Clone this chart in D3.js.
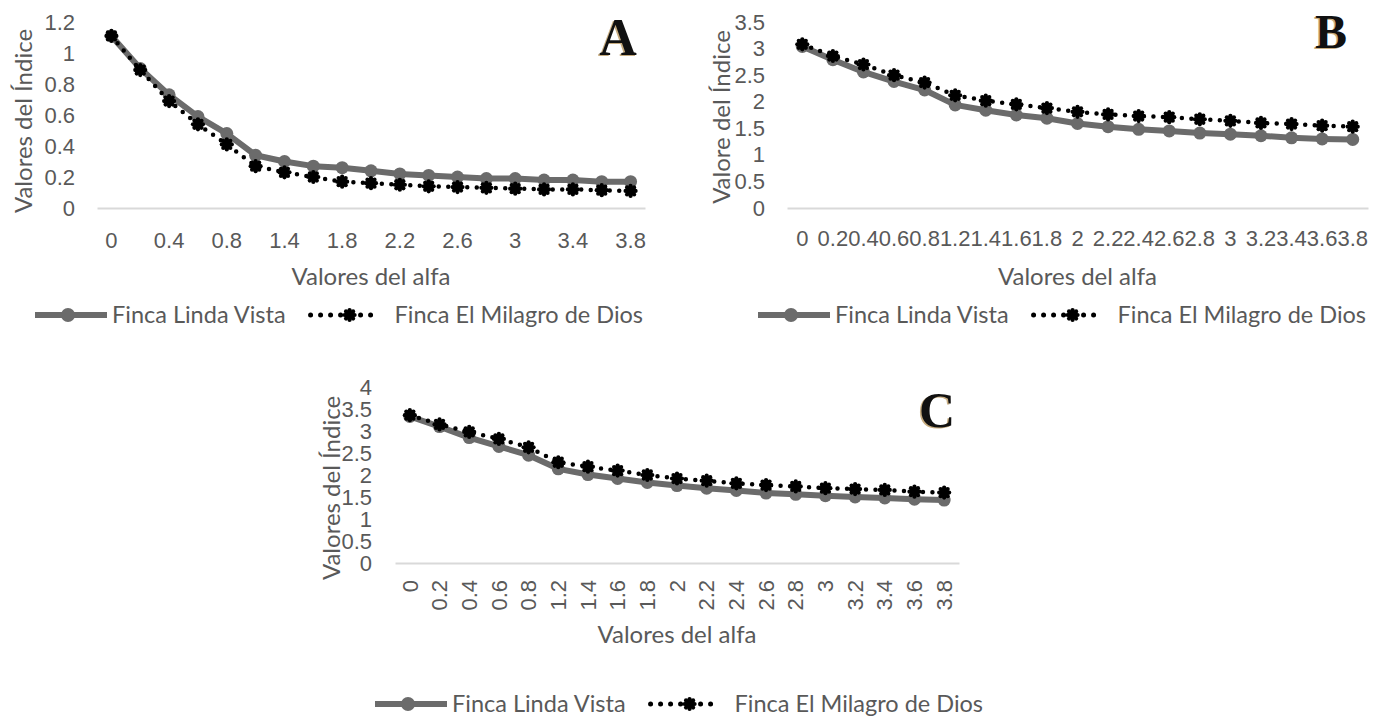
<!DOCTYPE html>
<html>
<head>
<meta charset="utf-8">
<script src="https://cdn.jsdelivr.net/npm/d3@7"></script>
<style>
  body { margin: 0; background: #ffffff; }
  svg { display: block; font-family: Lato, 'Open Sans', sans-serif; }
</style>
</head>
<body>
<div id="divChart"></div>
<script>
// categories of the x axis (values of alfa), there is no 1 in the original
var alfaLabels = ['0', '0.2', '0.4', '0.6', '0.8', '1.2', '1.4', '1.6', '1.8', '2',
  '2.2', '2.4', '2.6', '2.8', '3', '3.2', '3.4', '3.6', '3.8']

var seriesNames = ['Finca Linda Vista', 'Finca El Milagro de Dios']

// panel A
var lindaVistaA = [1.11, 0.90, 0.73, 0.59, 0.48, 0.34, 0.30, 0.27, 0.26, 0.24,
  0.22, 0.21, 0.20, 0.19, 0.19, 0.18, 0.18, 0.17, 0.17]
var milagroA = [1.11, 0.89, 0.69, 0.54, 0.41, 0.27, 0.23, 0.20, 0.17, 0.16,
  0.15, 0.14, 0.135, 0.13, 0.125, 0.12, 0.12, 0.115, 0.11]
var yTicksA = [0, 0.2, 0.4, 0.6, 0.8, 1, 1.2]

// panel B
var lindaVistaB = [3.04, 2.79, 2.56, 2.38, 2.22, 1.94, 1.84, 1.75, 1.69, 1.59,
  1.53, 1.48, 1.45, 1.41, 1.39, 1.36, 1.32, 1.30, 1.29]
var milagroB = [3.08, 2.86, 2.70, 2.50, 2.36, 2.12, 2.02, 1.95, 1.88, 1.81,
  1.76, 1.73, 1.71, 1.67, 1.64, 1.60, 1.58, 1.55, 1.53]
var yTicksB = [0, 0.5, 1, 1.5, 2, 2.5, 3, 3.5]

// panel C
var lindaVistaC = [3.33, 3.10, 2.85, 2.65, 2.45, 2.14, 2.01, 1.92, 1.83, 1.76,
  1.70, 1.65, 1.59, 1.56, 1.53, 1.50, 1.48, 1.45, 1.43]
var milagroC = [3.36, 3.15, 2.98, 2.82, 2.63, 2.29, 2.19, 2.10, 2.00, 1.92,
  1.87, 1.81, 1.77, 1.74, 1.70, 1.68, 1.66, 1.62, 1.60]
var yTicksC = [0, 0.5, 1, 1.5, 2, 2.5, 3, 3.5, 4]

// global store for the drawing
var chart = {}

function initChart () {
  chart.width = 1377
  chart.height = 717
  chart.textColor = '#595959'
  chart.grey = '#6b6b6b'
  chart.tickSize = 22
  chart.titleSize = 24
  chart.legendSize = 23.5

  // layout of every panel
  chart.panels = [
    { letter: 'A', linda: lindaVistaA, milagro: milagroA, yTicks: yTicksA,
      yTitle: 'Valores del Índice', left: 97, right: 645, top: 22, bottom: 208,
      yLabelX: 75, yTitleX: 24, yTitleY: 121, tickEvery: 2, rotate: false, xLabelY: 240, xTitleY: 277,
      legendX: 35, legendY: 315, letterX: 618, letterY: 55, letterSize: 52 },
    { letter: 'B', linda: lindaVistaB, milagro: milagroB, yTicks: yTicksB,
      yTitle: 'Valore del Índice', left: 787, right: 1368, top: 22, bottom: 208,
      yLabelX: 765, yTitleX: 722, yTitleY: 117, tickEvery: 1, rotate: false, xLabelY: 238, xTitleY: 277,
      legendX: 758, legendY: 315, letterX: 1331, letterY: 48, letterSize: 48 },
    { letter: 'C', linda: lindaVistaC, milagro: milagroC, yTicks: yTicksC,
      yTitle: 'Valores del Índice', left: 395, right: 959, top: 387, bottom: 563,
      yLabelX: 372, yTitleX: 332, yTitleY: 488, tickEvery: 1, rotate: true, xLabelY: 580, xTitleY: 635,
      legendX: 375, legendY: 704, letterX: 937, letterY: 427, letterSize: 50 }
  ]

  chart.svg = d3
    .select('#divChart')
    .append('svg')
    .attr('id', 'svgChart')
    .attr('width', chart.width)
    .attr('height', chart.height)

  chart.panels.forEach(drawPanel)
}

// draws the bumpy black marker of the second series
function drawFlower (sel, r) {
  var petals = d3.range(8).map(function (k) { return k * Math.PI / 4 })
  sel.append('circle').attr('r', r).attr('fill', '#000')
  sel.selectAll('.petal')
    .data(petals)
    .enter()
    .append('circle')
    .attr('class', 'petal')
    .attr('cx', function (a) { return Math.cos(a) * r })
    .attr('cy', function (a) { return Math.sin(a) * r })
    .attr('r', r * 0.42)
    .attr('fill', '#000')
}

function drawPanel (p) {
  var g = chart.svg.append('g').attr('id', 'g-panel' + p.letter)

  var x = d3.scaleBand().domain(alfaLabels).range([p.left, p.right])
  var y = d3.scaleLinear().domain([0, d3.max(p.yTicks)]).range([p.bottom, p.top])
  var cx = function (d, i) { return x(alfaLabels[i]) + x.bandwidth() / 2 }

  // y axis, only labels
  var yAxis = d3.axisLeft(y).tickValues(p.yTicks).tickSize(0).tickPadding(0)
    .tickFormat(function (d) { return String(d) })
  g.append('g')
    .attr('class', 'y axis')
    .attr('transform', 'translate(' + p.yLabelX + ',0)')
    .call(yAxis)
    .call(function (a) { a.select('.domain').remove() })
    .selectAll('text')
    .attr('fill', chart.textColor)
    .attr('font-size', chart.tickSize)
    .attr('font-family', null)

  // x axis with the light line at zero
  var xAxis = d3.axisBottom(x).tickSize(0).tickSizeOuter(0)
    .tickValues(alfaLabels.filter(function (d, i) { return i % p.tickEvery === 0 }))
  var xg = g.append('g')
    .attr('class', 'x axis')
    .attr('transform', 'translate(0,' + p.bottom + ')')
    .call(xAxis)
  xg.select('.domain').attr('stroke', '#d9d9d9').attr('stroke-width', 2)
  var xt = xg.selectAll('text')
    .attr('fill', chart.textColor)
    .attr('font-size', chart.tickSize)
    .attr('font-family', null)
  if (p.rotate) {
    xt.attr('transform', 'rotate(-90)')
      .attr('y', 0)
      .attr('x', -(p.xLabelY - p.bottom))
      .attr('dy', '0.35em')
      .style('text-anchor', 'end')
  } else {
    xt.attr('y', p.xLabelY - p.bottom).attr('dy', '0.35em')
  }

  // axis titles
  g.append('text')
    .attr('transform', 'translate(' + p.yTitleX + ',' + p.yTitleY + ') rotate(-90)')
    .attr('text-anchor', 'middle')
    .attr('dy', '0.35em')
    .attr('fill', chart.textColor)
    .attr('font-size', chart.titleSize)
    .text(p.yTitle)
  g.append('text')
    .attr('x', (p.left + p.right) / 2)
    .attr('y', p.xTitleY)
    .attr('text-anchor', 'middle')
    .attr('dy', '0.35em')
    .attr('fill', chart.textColor)
    .attr('font-size', chart.titleSize)
    .text('Valores del alfa')

  // series 1: grey solid line with circles
  var line = d3.line().x(cx).y(function (d) { return y(d) })
  g.append('path')
    .datum(p.linda)
    .attr('d', line)
    .attr('fill', 'none')
    .attr('stroke', chart.grey)
    .attr('stroke-width', 6)
    .attr('stroke-linejoin', 'round')
  g.append('g')
    .selectAll('circle')
    .data(p.linda)
    .enter()
    .append('circle')
    .attr('cx', cx)
    .attr('cy', function (d) { return y(d) })
    .attr('r', 6.5)
    .attr('fill', chart.grey)

  // series 2: black dotted line with bumpy markers
  g.append('path')
    .datum(p.milagro)
    .attr('d', line)
    .attr('fill', 'none')
    .attr('stroke', '#000')
    .attr('stroke-width', 4.5)
    .attr('stroke-linecap', 'round')
    .attr('stroke-dasharray', '0,9.5')
  g.append('g')
    .selectAll('g')
    .data(p.milagro)
    .enter()
    .append('g')
    .attr('transform', function (d, i) { return 'translate(' + cx(d, i) + ',' + y(d) + ')' })
    .each(function () { drawFlower(d3.select(this), 5) })

  drawLegend(g, p)

  // panel letter with its slight golden halo
  g.append('text')
    .attr('x', p.letterX - 1.5)
    .attr('y', p.letterY + 0.5)
    .attr('text-anchor', 'middle')
    .attr('font-family', "'Liberation Serif', 'DejaVu Serif', serif")
    .attr('font-weight', 'bold')
    .attr('font-size', p.letterSize)
    .attr('fill', '#b08a4a')
    .attr('opacity', 0.7)
    .text(p.letter)
  g.append('text')
    .attr('x', p.letterX)
    .attr('y', p.letterY)
    .attr('text-anchor', 'middle')
    .attr('font-family', "'Liberation Serif', 'DejaVu Serif', serif")
    .attr('font-weight', 'bold')
    .attr('font-size', p.letterSize)
    .attr('fill', '#111')
    .text(p.letter)
}

function drawLegend (g, p) {
  var lg = g.append('g').attr('class', 'legend')
    .attr('transform', 'translate(' + p.legendX + ',' + p.legendY + ')')

  lg.append('line')
    .attr('x1', 0).attr('x2', 72)
    .attr('stroke', chart.grey).attr('stroke-width', 6)
  lg.append('circle').attr('cx', 33).attr('r', 7).attr('fill', chart.grey)
  var t1 = lg.append('text')
    .attr('x', 77)
    .attr('dy', '0.35em')
    .attr('fill', chart.textColor)
    .attr('font-size', chart.legendSize)
    .text(seriesNames[0])

  var x2 = 77 + t1.node().getComputedTextLength() + 25
  lg.append('line')
    .attr('x1', x2).attr('x2', x2 + 70)
    .attr('stroke', '#000').attr('stroke-width', 5)
    .attr('stroke-linecap', 'round')
    .attr('stroke-dasharray', '0,10')
  lg.append('g')
    .attr('transform', 'translate(' + (x2 + 39) + ',0)')
    .call(drawFlower, 5)
  lg.append('text')
    .attr('x', x2 + 84)
    .attr('dy', '0.35em')
    .attr('fill', chart.textColor)
    .attr('font-size', chart.legendSize)
    .text(seriesNames[1])
}

initChart()
</script>
</body>
</html>
